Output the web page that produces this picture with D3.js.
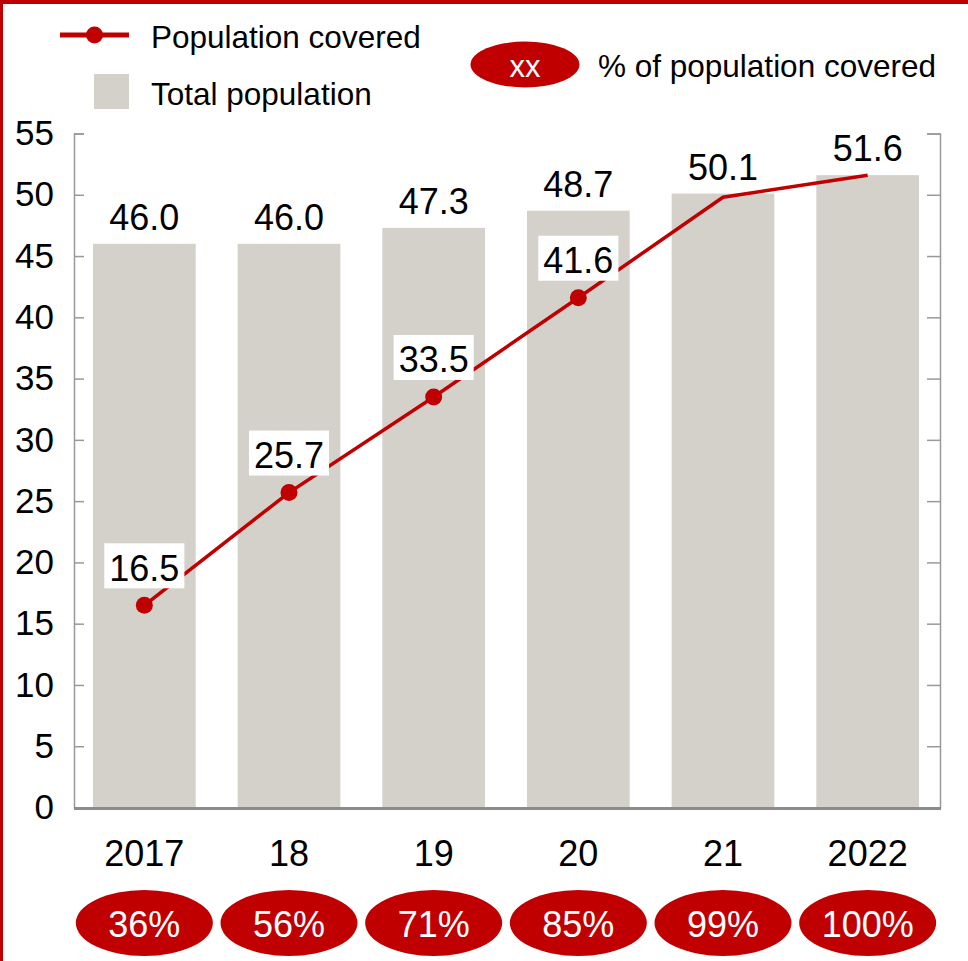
<!DOCTYPE html>
<html>
<head>
<meta charset="utf-8">
<script src="https://cdn.jsdelivr.net/npm/d3@7"></script>
<style>
  body { margin: 0; background: #fff; }
  svg { display: block; font-family: 'Liberation Sans', Arial, sans-serif; }
</style>
</head>
<body>
<svg width="968" height="961"></svg>
<script>
var years = ['2017', '18', '19', '20', '21', '2022']
var totalPop = [46.0, 46.0, 47.3, 48.7, 50.1, 51.6]
var covered = [16.5, 25.7, 33.5, 41.6, 49.8, 51.6]
var coveredMarked = [true, true, true, true, false, false]
var pctCovered = ['36%', '56%', '71%', '85%', '99%', '100%']
var yTicks = [0, 5, 10, 15, 20, 25, 30, 35, 40, 45, 50, 55]

var red = '#c00000'
var barGrey = '#d4d1cb'
var axisGrey = '#999'

var svg = d3.select('svg')

// red frame (left + top edges)
svg.append('rect').attr('x', 0).attr('y', 0).attr('width', 3).attr('height', 961).attr('fill', red)
svg.append('rect').attr('x', 0).attr('y', 0).attr('width', 968).attr('height', 4).attr('fill', red)

var x = d3.scaleBand()
    .domain(years)
    .range([72, 940])
    .paddingInner(0.29)
    .paddingOuter(0.145)

var y = d3.scaleLinear()
    .domain([0, 55])
    .range([807.5, 133.5])

var data = years.map(function (d, i) {
  return { year: d, total: totalPop[i], covered: covered[i], marked: coveredMarked[i], pct: pctCovered[i] }
})

// bars
svg.append('g')
  .selectAll('rect')
  .data(data)
  .enter().append('rect')
    .attr('x', d => x(d.year))
    .attr('y', d => y(d.total))
    .attr('width', x.bandwidth())
    .attr('height', d => y(0) - y(d.total))
    .attr('fill', barGrey)

// left axis, ticks pointing inward
var left = svg.append('g')
    .attr('transform', 'translate(74,0)')
    .call(d3.axisLeft(y).tickValues(yTicks).tickSize(-10).tickPadding(20))
left.selectAll('line, path').attr('stroke', axisGrey).attr('stroke-width', 1.5)
left.selectAll('text')
    .attr('font-size', 35)
    .attr('font-family', 'Liberation Sans, Arial, sans-serif')
    .attr('fill', '#000')

// right axis, no labels
var right = svg.append('g')
    .attr('transform', 'translate(940,0)')
    .call(d3.axisRight(y).tickValues(yTicks).tickSize(-13).tickFormat(''))
right.selectAll('line, path').attr('stroke', axisGrey).attr('stroke-width', 1.5)

// baseline
svg.append('line')
    .attr('x1', 74).attr('x2', 941)
    .attr('y1', y(0) + 1).attr('y2', y(0) + 1)
    .attr('stroke', '#8c8c8c')
    .attr('stroke-width', 3)

// bar value labels
svg.append('g')
  .selectAll('text')
  .data(data)
  .enter().append('text')
    .attr('x', d => x(d.year) + x.bandwidth() / 2)
    .attr('y', d => y(d.total) - 14)
    .attr('text-anchor', 'middle')
    .attr('font-size', 36)
    .text(d => d.total.toFixed(1))

// covered line
var line = d3.line()
    .x(d => x(d.year) + x.bandwidth() / 2)
    .y(d => y(d.covered))

svg.append('path')
    .datum(data)
    .attr('d', line)
    .attr('fill', 'none')
    .attr('stroke', red)
    .attr('stroke-width', 3.5)

svg.append('g')
  .selectAll('circle')
  .data(data.filter(d => d.marked))
  .enter().append('circle')
    .attr('cx', d => x(d.year) + x.bandwidth() / 2)
    .attr('cy', d => y(d.covered))
    .attr('r', 8.5)
    .attr('fill', red)

// covered labels on white boxes
var lbl = svg.append('g')
  .selectAll('g')
  .data(data.filter(d => d.marked))
  .enter().append('g')

lbl.append('rect').attr('fill', '#fff')
lbl.append('text')
    .attr('x', d => x(d.year) + x.bandwidth() / 2)
    .attr('y', d => y(d.covered) - 24.5)
    .attr('text-anchor', 'middle')
    .attr('font-size', 36)
    .text(d => d.covered.toFixed(1))

lbl.each(function (d) {
  var g = d3.select(this)
  var bb = g.select('text').node().getBBox()
  g.select('rect')
      .attr('x', bb.x - 5)
      .attr('y', y(d.covered) - 62)
      .attr('width', bb.width + 10)
      .attr('height', 45)
})

// category labels
svg.append('g')
  .selectAll('text')
  .data(data)
  .enter().append('text')
    .attr('x', d => x(d.year) + x.bandwidth() / 2)
    .attr('y', 866)
    .attr('text-anchor', 'middle')
    .attr('font-size', 36)
    .text(d => d.year)

// % covered ellipses
var pct = svg.append('g')
  .selectAll('g')
  .data(data)
  .enter().append('g')
    .attr('transform', d => 'translate(' + (x(d.year) + x.bandwidth() / 2) + ',923)')

pct.append('ellipse')
    .attr('rx', 68.5)
    .attr('ry', 33)
    .attr('fill', red)
pct.append('text')
    .attr('y', 13.5)
    .attr('text-anchor', 'middle')
    .attr('font-size', 36)
    .attr('fill', '#fff')
    .text(d => d.pct)

// legend
var legend = svg.append('g')
legend.append('line')
    .attr('x1', 60).attr('x2', 129)
    .attr('y1', 35).attr('y2', 35)
    .attr('stroke', red)
    .attr('stroke-width', 5)
legend.append('circle')
    .attr('cx', 94.5).attr('cy', 35).attr('r', 8.5)
    .attr('fill', red)
legend.append('text')
    .attr('x', 151).attr('y', 48)
    .attr('font-size', 31.5)
    .text('Population covered')
legend.append('rect')
    .attr('x', 94).attr('y', 74)
    .attr('width', 35).attr('height', 35)
    .attr('fill', barGrey)
legend.append('text')
    .attr('x', 151).attr('y', 105)
    .attr('font-size', 31.5)
    .text('Total population')

legend.append('ellipse')
    .attr('cx', 525).attr('cy', 64.5)
    .attr('rx', 54.5).attr('ry', 23)
    .attr('fill', red)
legend.append('text')
    .attr('x', 525).attr('y', 76.5)
    .attr('text-anchor', 'middle')
    .attr('font-size', 31)
    .attr('fill', '#fff')
    .text('xx')
legend.append('text')
    .attr('x', 598).attr('y', 77)
    .attr('font-size', 31.5)
    .text('% of population covered')
</script>
</body>
</html>
